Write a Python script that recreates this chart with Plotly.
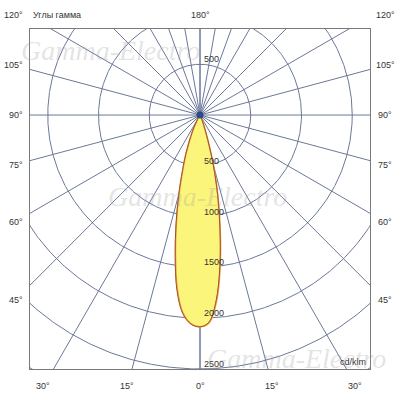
import numpy as np
import plotly.graph_objects as go

# ---- data (cd/klm) ----
gamma_deg = [-35, -30, -25, -20, -17.5, -15, -12.5, -10, -7.5, -5, -2.5, 0,
             2.5, 5, 7.5, 10, 12.5, 15, 17.5, 20, 25, 30, 35]
intensity_c0_180 = [0, 40, 165, 400, 560, 790, 1070, 1390, 1720, 1950, 2055, 2085,
                    2050, 1850, 1520, 1150, 820, 520, 260, 120, 30, 0, 0]
intensity_c90_270 = [0, 50, 175, 410, 575, 810, 1090, 1410, 1740, 1960, 2060, 2085,
                     2040, 1830, 1500, 1130, 800, 500, 250, 110, 25, 0, 0]

grid_radii = [500, 1000, 1500, 2000, 2500, 3000, 3500]
radial_label_values = [500, 1000, 1500, 2000, 2500]
upper_label_values = [500]
grid_angles = [0, 15, 30, 45, 60, 75, 90, 105, 120, 135, 150, 160, 170, 180]

side_labels = ["120°", "105°", "90°", "75°", "60°", "45°"]
bottom_labels = ["30°", "15°", "0°", "15°", "30°"]

# ---- geometry helpers ----
def to_xy(g, r):
    g = np.radians(np.asarray(g, float))
    r = np.asarray(r, float)
    return r * np.sin(g), -r * np.cos(g)

fig = go.Figure()

grid_color = "#6b7898"
cx, cy = [], []
t = np.linspace(0, 2 * np.pi, 721)
for r in grid_radii:
    cx += list(r * np.cos(t)) + [None]
    cy += list(r * np.sin(t)) + [None]
fig.add_trace(go.Scatter(x=cx, y=cy, mode="lines",
                         line=dict(color=grid_color, width=1), hoverinfo="skip"))
lx, ly = [], []
for a in grid_angles:
    for s in (1, -1):
        ex, ey = to_xy(s * a, 6000)
        lx += [0, float(ex), None]
        ly += [0, float(ey), None]
fig.add_trace(go.Scatter(x=lx, y=ly, mode="lines",
                         line=dict(color=grid_color, width=1), hoverinfo="skip"))

x1, y1 = to_xy(gamma_deg, intensity_c0_180)
fig.add_trace(go.Scatter(x=x1, y=y1, mode="lines", fill="toself",
                         fillcolor="#fcf57c",
                         line=dict(color="#eea040", width=1.5, shape="spline"),
                         hoverinfo="skip"))
x2, y2 = to_xy(gamma_deg, intensity_c90_270)
fig.add_trace(go.Scatter(x=x2, y=y2, mode="lines",
                         line=dict(color="#a0522d", width=1, shape="spline"),
                         hoverinfo="skip"))
fig.add_trace(go.Scatter(x=[0], y=[0], mode="markers",
                         marker=dict(color="#2c4a8c", size=7), hoverinfo="skip"))

ann = []
lab_font = dict(family="Liberation Sans, Arial", size=9, color="#333333")

# screen pixel -> paper (plot area spans x 30..370, y 29..369)
def px2paper(px, py):
    return (px - 30) / 340.0, (369 - py) / 340.0

for v in radial_label_values:
    ann.append(dict(x=15, y=-v, xref="x", yref="y", text=str(v), showarrow=False,
                    xanchor="left", yanchor="bottom", font=lab_font, yshift=-2))
for v in upper_label_values:
    ann.append(dict(x=15, y=v, xref="x", yref="y", text=str(v), showarrow=False,
                    xanchor="left", yanchor="bottom", font=lab_font, yshift=-2))

side_py = [15, 65, 115, 165, 222, 300]
for txt, py in zip(side_labels, side_py):
    xp, yp = px2paper(25, py)
    ann.append(dict(x=xp, y=yp, xref="paper", yref="paper", text=txt, showarrow=False,
                    xanchor="right", yanchor="middle", font=lab_font))
    xp, yp = px2paper(385, py)
    ann.append(dict(x=xp, y=yp, xref="paper", yref="paper", text=txt, showarrow=False,
                    xanchor="center", yanchor="middle", font=lab_font))

bottom_px = [43, 127, 200, 272, 355]
for txt, px in zip(bottom_labels, bottom_px):
    xp, yp = px2paper(px, 386)
    ann.append(dict(x=xp, y=yp, xref="paper", yref="paper", text=txt, showarrow=False,
                    xanchor="center", yanchor="middle", font=lab_font))

xp, yp = px2paper(200, 15)
ann.append(dict(x=xp, y=yp, xref="paper", yref="paper", text="180°", showarrow=False,
                xanchor="center", yanchor="middle", font=lab_font))
xp, yp = px2paper(31, 15)
ann.append(dict(x=xp, y=yp, xref="paper", yref="paper", text="Углы гамма", showarrow=False,
                xanchor="left", yanchor="middle", font=lab_font))
xp, yp = px2paper(368, 362)
ann.append(dict(x=xp, y=yp, xref="paper", yref="paper", text="cd/klm", showarrow=False,
                xanchor="right", yanchor="middle", font=lab_font))

wm_font = dict(family="Liberation Serif", size=28, color="rgba(160,160,160,0.3)",
               style="italic")
for (px, py) in [(110, 50), (197, 196), (296, 358)]:
    xp, yp = px2paper(px, py)
    ann.append(dict(x=xp, y=yp, xref="paper", yref="paper", text="Gamma-Electro",
                    showarrow=False, xanchor="center", yanchor="middle", font=wm_font))

fig.update_layout(
    width=400, height=400,
    margin=dict(l=30, r=30, t=29, b=31),
    paper_bgcolor="white", plot_bgcolor="white",
    showlegend=False,
    annotations=ann,
    xaxis=dict(range=[-1675, 1675], showgrid=False, zeroline=False,
               showticklabels=False, ticks="", showline=True, mirror=True,
               linecolor="#7a7a7a", linewidth=1, fixedrange=True),
    yaxis=dict(range=[-2500, 847], showgrid=False, zeroline=False,
               showticklabels=False, ticks="", showline=True, mirror=True,
               linecolor="#7a7a7a", linewidth=1, fixedrange=True),
)

fig.write_html("out.html",
               config={"displayModeBar": False, "staticPlot": True},
               post_script="document.body.style.margin='0';"
                           "document.body.style.overflow='hidden';")
